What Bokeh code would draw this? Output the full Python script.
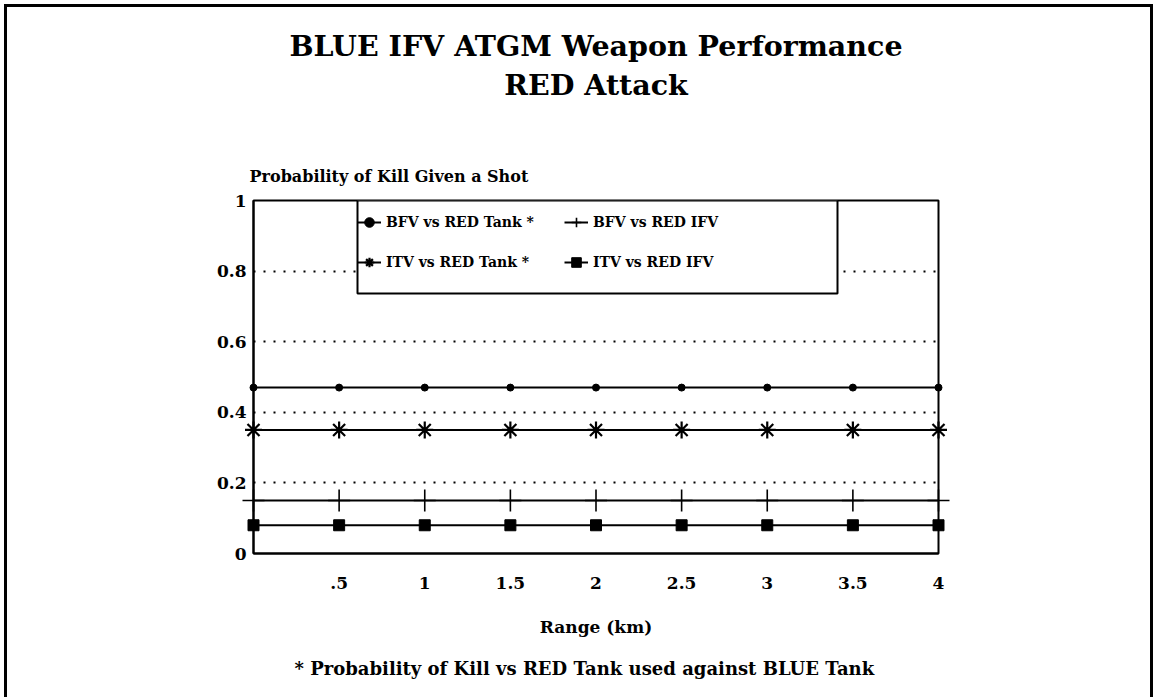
from bokeh.plotting import figure
from bokeh.models import (Legend, LegendItem, FixedTicker, Range1d,
                          BoxAnnotation, Title)
from bokeh.embed import file_html
from bokeh.resources import INLINE

# ---- data ----
range_km = [0, 0.5, 1, 1.5, 2, 2.5, 3, 3.5, 4]
bfv_vs_red_tank = [0.47, 0.47, 0.47, 0.47, 0.47, 0.47, 0.47, 0.47, 0.47]
bfv_vs_red_ifv = [0.15, 0.15, 0.15, 0.15, 0.15, 0.15, 0.15, 0.15, 0.15]
itv_vs_red_tank = [0.35, 0.35, 0.35, 0.35, 0.35, 0.35, 0.35, 0.35, 0.35]
itv_vs_red_ifv = [0.08, 0.08, 0.08, 0.08, 0.08, 0.08, 0.08, 0.08, 0.08]
x_ticks = [0.5, 1, 1.5, 2, 2.5, 3, 3.5, 4]
x_tick_labels = [".5", "1", "1.5", "2", "2.5", "3", "3.5", "4"]
y_ticks = [0, 0.2, 0.4, 0.6, 0.8, 1]
y_tick_labels = ["0", "0.2", "0.4", "0.6", "0.8", "1"]
grid_levels = [0.2, 0.4, 0.6, 0.8]

FONT = "DejaVu Serif"

W, H = 1149, 693
FL, FT = 246, 193
FW, FH = 685, 353

p = figure(width=W, height=H, output_backend="svg", toolbar_location=None,
           x_range=Range1d(0, 4), y_range=Range1d(0, 1),
           min_border_left=FL, min_border_right=W - FL - FW,
           min_border_top=FT, min_border_bottom=H - FT - FH)
p.styles = {"border-top": "3px solid black", "border-left": "3px solid black",
            "border-right": "3px solid black",
            "margin-left": "4px", "margin-top": "4px"}
p.background_fill_color = "white"
p.border_fill_color = "white"
p.outline_line_color = "black"
p.outline_line_width = 2

# axes
for ax in (p.xaxis[0], p.yaxis[0]):
    ax.axis_line_color = "black"
    ax.axis_line_width = 2
    ax.major_tick_line_color = None
    ax.minor_tick_line_color = None
    ax.major_tick_out = 0
    ax.major_tick_in = 0
    ax.minor_tick_out = 0
    ax.major_label_text_font = FONT
    ax.major_label_text_font_style = "bold"
    ax.major_label_text_font_size = "17px"
    ax.major_label_text_color = "black"
p.xaxis.ticker = FixedTicker(ticks=x_ticks)
p.xaxis.major_label_overrides = {t: l for t, l in zip(x_ticks, x_tick_labels)}
p.xaxis.major_label_standoff = 23
p.xaxis.axis_label = "Range (km)"
p.xaxis.axis_label_text_font = FONT
p.xaxis.axis_label_text_font_style = "bold"
p.xaxis.axis_label_text_font_size = "17px"
p.xaxis.axis_label_text_color = "black"
p.xaxis.axis_label_standoff = 25
p.yaxis.ticker = FixedTicker(ticks=y_ticks)
p.yaxis.major_label_overrides = {t: l for t, l in zip(y_ticks, y_tick_labels)}
p.yaxis.major_label_standoff = 7

p.xgrid.grid_line_color = None
p.ygrid.ticker = FixedTicker(ticks=grid_levels)
p.ygrid.grid_line_color = "black"
p.ygrid.grid_line_width = 1.8
p.ygrid.grid_line_dash = "2 8"

# series
l1 = p.line(range_km, bfv_vs_red_tank, line_color="black", line_width=2)
s1 = p.scatter(range_km, bfv_vs_red_tank, marker="circle", size=7,
               color="black", level="overlay")
l2 = p.line(range_km, bfv_vs_red_ifv, line_color="black", line_width=2)
s2 = p.scatter(range_km, bfv_vs_red_ifv, marker="cross", size=22,
               line_color="black", line_width=1.6, level="overlay")
l3 = p.line(range_km, itv_vs_red_tank, line_color="black", line_width=2)
s3 = p.scatter(range_km, itv_vs_red_tank, marker="asterisk", size=17,
               line_color="black", line_width=2.2, level="overlay")
l4 = p.line(range_km, itv_vs_red_ifv, line_color="black", line_width=2)
s4 = p.scatter(range_km, itv_vs_red_ifv, marker="square", size=11,
               color="black", level="overlay")

# legend box
box = BoxAnnotation(left=(357 - 253) / 171.25, right=(837 - 253) / 171.25,
                    bottom=(553 - 293) / 353.0, top=1.0,
                    fill_color="white", fill_alpha=1.0,
                    line_color="black", line_alpha=1.0, line_width=2)
p.add_layout(box)

legend = Legend(items=[
    LegendItem(label="BFV vs RED Tank *", renderers=[l1, s1]),
    LegendItem(label="BFV vs RED IFV", renderers=[l2, s2]),
    LegendItem(label="ITV vs RED Tank *", renderers=[l3, s3]),
    LegendItem(label="ITV vs RED IFV", renderers=[l4, s4]),
], location=(104, FH - 77), orientation="horizontal", nrows=2,
    background_fill_alpha=0, border_line_color=None,
    label_text_font=FONT, label_text_font_style="bold",
    label_text_font_size="14px", label_text_color="black",
    glyph_width=24, glyph_height=30,
    label_standoff=5, label_width=168, spacing=10, padding=7, margin=0)
p.add_layout(legend, "center")

# above: nearest to the frame first
p.add_layout(Title(text="Probability of Kill Given a Shot", text_font=FONT,
                   text_font_style="bold", text_font_size="16px",
                   align="left", offset=-4, standoff=0,
                   padding=dict(left=0, right=0, top=0, bottom=15),
                   text_color="black"), "above")
p.add_layout(Title(text="BLUE IFV ATGM Weapon Performance\nRED Attack",
                   text_font=FONT, text_font_style="bold",
                   text_font_size="28.5px", text_line_height=1.15,
                   text_align="center",
                   align="center", vertical_align="bottom", standoff=0,
                   padding=dict(left=0, right=0, top=0, bottom=62),
                   text_color="black"), "above")
# below
p.add_layout(Title(text="* Probability of Kill vs RED Tank used against BLUE Tank",
                   text_font=FONT, text_font_style="bold", text_font_size="18px",
                   align="left", offset=41, vertical_align="top", standoff=36,
                   text_color="black"), "below")

open("out.html", "w").write(file_html(p, INLINE))
